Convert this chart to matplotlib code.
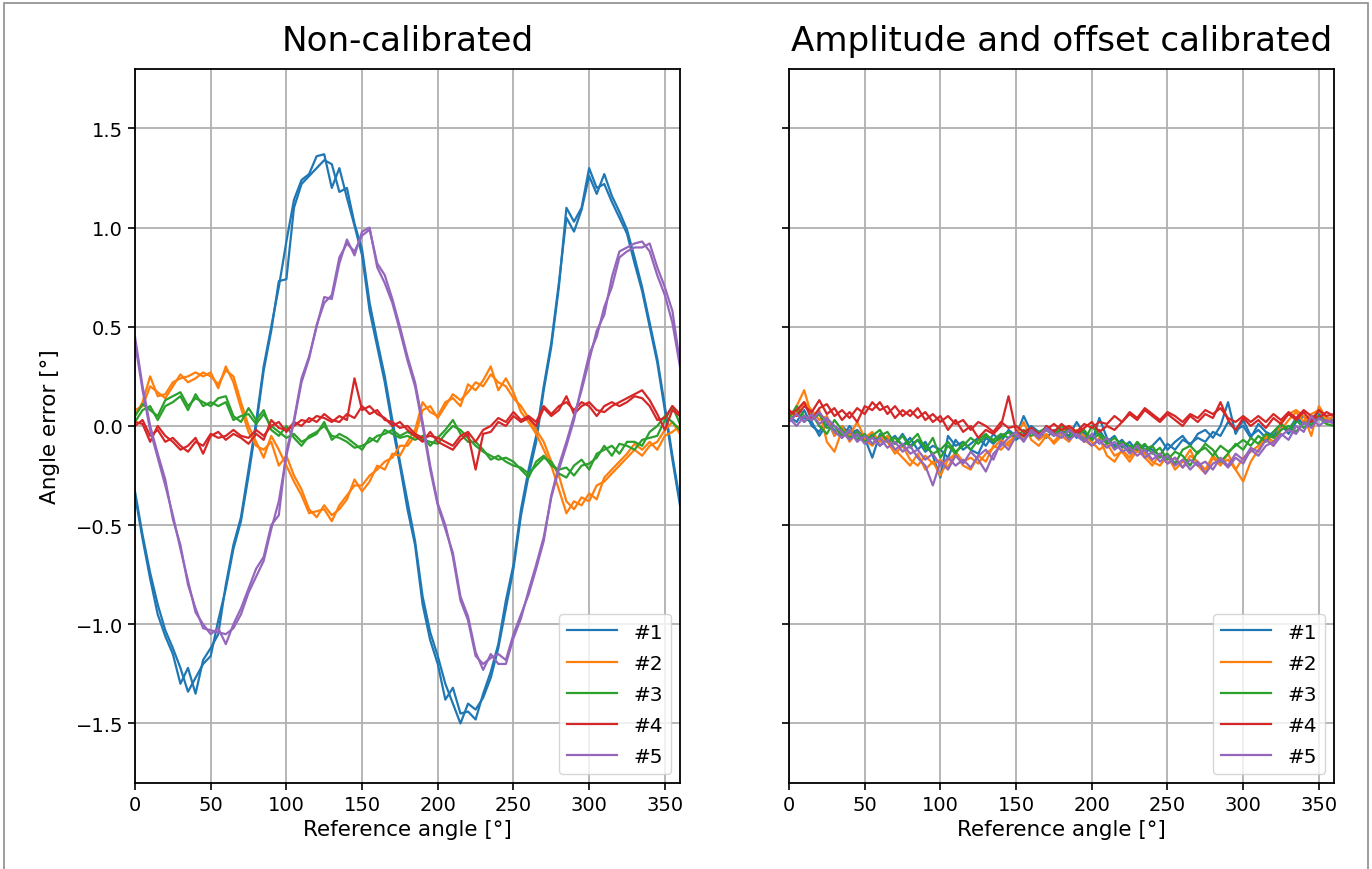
import numpy as np
import matplotlib.pyplot as plt
from matplotlib.patches import Rectangle

# reference angle, 5 deg steps
angle = np.arange(0, 361, 5)

# non-calibrated, two sweeps per sensor
raw1_a = [-0.35, -0.57, -0.77, -0.95, -1.06, -1.15, -1.30, -1.22, -1.35, -1.18, -1.12, -1.05,
          -0.80, -0.60, -0.46, -0.22, 0.02, 0.30, 0.50, 0.70, 0.93, 1.14, 1.24, 1.27,
          1.36, 1.37, 1.20, 1.30, 1.15, 1.01, 0.86, 0.58, 0.40, 0.22, 0.00, -0.20,
          -0.42, -0.60, -0.90, -1.08, -1.20, -1.38, -1.32, -1.45, -1.44, -1.48, -1.35, -1.24,
          -1.10, -0.88, -0.70, -0.42, -0.22, -0.05, 0.20, 0.42, 0.72, 1.05, 0.98, 1.09,
          1.26, 1.17, 1.27, 1.16, 1.08, 0.99, 0.85, 0.70, 0.52, 0.34, 0.10, -0.15,
          -0.38]
raw1_b = [-0.33, -0.55, -0.74, -0.90, -1.03, -1.12, -1.22, -1.34, -1.27, -1.20, -1.16, -0.98,
          -0.82, -0.62, -0.48, -0.25, 0.00, 0.28, 0.48, 0.73, 0.74, 1.10, 1.22, 1.26,
          1.30, 1.34, 1.32, 1.18, 1.20, 1.02, 0.89, 0.62, 0.43, 0.25, 0.03, -0.18,
          -0.38, -0.58, -0.86, -1.04, -1.16, -1.30, -1.40, -1.50, -1.40, -1.43, -1.37, -1.27,
          -1.12, -0.92, -0.72, -0.45, -0.25, -0.08, 0.18, 0.40, 0.70, 1.10, 1.03, 1.10,
          1.30, 1.20, 1.22, 1.13, 1.05, 0.97, 0.82, 0.68, 0.50, 0.32, 0.08, -0.17,
          -0.40]
raw2_a = [0.05, 0.12, 0.25, 0.15, 0.16, 0.22, 0.24, 0.25, 0.27, 0.25, 0.27, 0.19,
          0.30, 0.22, 0.09, -0.03, -0.10, -0.12, -0.08, -0.20, -0.15, -0.25, -0.32, -0.42,
          -0.46, -0.40, -0.45, -0.42, -0.37, -0.27, -0.33, -0.28, -0.20, -0.22, -0.14, -0.15,
          -0.08, -0.02, 0.12, 0.07, 0.05, 0.12, 0.14, 0.10, 0.21, 0.18, 0.23, 0.30,
          0.18, 0.24, 0.17, 0.07, 0.02, -0.04, -0.12, -0.20, -0.32, -0.44, -0.38, -0.40,
          -0.34, -0.37, -0.26, -0.22, -0.18, -0.14, -0.09, -0.12, -0.08, -0.12, -0.05, -0.03,
          0.00]
raw2_b = [0.08, 0.10, 0.20, 0.17, 0.14, 0.20, 0.26, 0.22, 0.24, 0.27, 0.25, 0.21,
          0.28, 0.25, 0.12, 0.00, -0.08, -0.16, -0.05, -0.12, -0.20, -0.28, -0.35, -0.44,
          -0.43, -0.42, -0.48, -0.40, -0.35, -0.30, -0.30, -0.25, -0.22, -0.18, -0.16, -0.10,
          -0.10, -0.05, 0.08, 0.10, 0.04, 0.10, 0.16, 0.13, 0.17, 0.22, 0.20, 0.26,
          0.22, 0.20, 0.14, 0.10, 0.04, -0.02, -0.08, -0.18, -0.25, -0.38, -0.42, -0.36,
          -0.38, -0.30, -0.28, -0.24, -0.20, -0.16, -0.12, -0.15, -0.10, -0.08, -0.02, 0.02,
          -0.04]
raw3_a = [0.05, 0.11, 0.08, 0.05, 0.13, 0.15, 0.17, 0.10, 0.14, 0.12, 0.10, 0.14,
          0.15, 0.05, 0.02, 0.09, 0.03, 0.08, -0.02, -0.05, 0.00, -0.06, -0.10, -0.05,
          -0.03, 0.00, -0.05, -0.06, -0.08, -0.11, -0.10, -0.08, -0.05, -0.04, -0.02, -0.05,
          -0.03, -0.05, -0.07, -0.08, -0.09, -0.04, 0.00, -0.02, -0.06, -0.10, -0.13, -0.15,
          -0.17, -0.16, -0.18, -0.22, -0.26, -0.18, -0.15, -0.20, -0.22, -0.21, -0.25, -0.20,
          -0.19, -0.16, -0.10, -0.15, -0.09, -0.10, -0.12, -0.07, -0.06, -0.05, 0.03, 0.10,
          0.01]
raw3_b = [0.02, 0.08, 0.10, 0.03, 0.10, 0.12, 0.15, 0.08, 0.16, 0.10, 0.12, 0.10,
          0.12, 0.03, 0.05, 0.06, 0.01, 0.06, 0.00, -0.03, -0.06, -0.04, -0.08, -0.06,
          -0.04, 0.02, -0.07, -0.04, -0.06, -0.09, -0.12, -0.06, -0.08, -0.02, -0.04, -0.06,
          -0.05, -0.07, -0.05, -0.10, -0.06, -0.02, 0.03, -0.04, -0.08, -0.08, -0.12, -0.17,
          -0.15, -0.18, -0.20, -0.21, -0.24, -0.20, -0.16, -0.18, -0.24, -0.26, -0.20, -0.17,
          -0.22, -0.14, -0.12, -0.10, -0.14, -0.08, -0.08, -0.10, -0.03, 0.00, 0.05, 0.02,
          -0.02]
raw4_a = [0.02, 0.01, -0.08, 0.00, -0.05, -0.08, -0.12, -0.10, -0.06, -0.14, -0.05, -0.03,
          -0.07, -0.04, -0.06, -0.09, -0.04, -0.07, 0.03, -0.01, -0.02, 0.00, 0.03, 0.02,
          0.05, 0.04, 0.02, 0.05, 0.03, 0.24, 0.08, 0.10, 0.06, 0.04, 0.00, 0.02,
          -0.02, -0.05, -0.08, -0.03, -0.08, -0.10, -0.12, -0.07, -0.04, -0.22, -0.04, -0.03,
          0.02, 0.00, 0.05, 0.02, 0.04, 0.00, 0.09, 0.05, 0.08, 0.15, 0.06, 0.10,
          0.12, 0.08, 0.07, 0.10, 0.12, 0.14, 0.16, 0.18, 0.13, 0.06, -0.02, 0.08,
          0.05]
raw4_b = [0.00, 0.03, -0.05, -0.02, -0.08, -0.06, -0.10, -0.13, -0.08, -0.10, -0.04, -0.06,
          -0.05, -0.02, -0.05, -0.06, -0.02, -0.05, 0.00, 0.02, -0.03, 0.02, 0.00, 0.04,
          0.02, 0.06, 0.03, 0.02, 0.06, 0.04, 0.10, 0.06, 0.08, 0.03, 0.02, -0.01,
          0.00, -0.04, -0.06, -0.05, -0.06, -0.08, -0.10, -0.05, -0.03, -0.08, -0.02, 0.00,
          0.04, 0.02, 0.07, 0.03, 0.05, 0.02, 0.10, 0.06, 0.10, 0.12, 0.08, 0.12,
          0.10, 0.05, 0.10, 0.12, 0.10, 0.12, 0.15, 0.14, 0.10, 0.03, 0.04, 0.10,
          0.06]
raw5_a = [0.45, 0.20, 0.00, -0.14, -0.27, -0.47, -0.60, -0.80, -0.92, -1.02, -1.03, -1.04,
          -1.05, -1.02, -0.95, -0.84, -0.76, -0.68, -0.52, -0.38, -0.15, 0.02, 0.22, 0.34,
          0.51, 0.62, 0.66, 0.85, 0.92, 0.88, 0.96, 0.99, 0.82, 0.76, 0.64, 0.50,
          0.35, 0.22, 0.02, -0.20, -0.39, -0.50, -0.66, -0.88, -0.98, -1.16, -1.20, -1.17,
          -1.15, -1.18, -1.05, -0.95, -0.85, -0.72, -0.58, -0.35, -0.20, -0.08, 0.05, 0.18,
          0.33, 0.48, 0.56, 0.75, 0.88, 0.90, 0.92, 0.93, 0.88, 0.76, 0.66, 0.52,
          0.30]
raw5_b = [0.42, 0.18, -0.02, -0.16, -0.30, -0.45, -0.62, -0.78, -0.94, -1.00, -1.05, -1.02,
          -1.10, -1.00, -0.92, -0.82, -0.72, -0.66, -0.50, -0.45, -0.13, 0.03, 0.24, 0.35,
          0.50, 0.65, 0.64, 0.82, 0.94, 0.86, 0.98, 1.00, 0.80, 0.72, 0.62, 0.48,
          0.33, 0.20, 0.00, -0.22, -0.40, -0.52, -0.64, -0.86, -0.96, -1.14, -1.23, -1.15,
          -1.20, -1.20, -1.07, -0.97, -0.83, -0.70, -0.56, -0.36, -0.22, -0.10, 0.03, 0.20,
          0.36, 0.45, 0.60, 0.70, 0.85, 0.88, 0.90, 0.90, 0.92, 0.80, 0.70, 0.58,
          0.32]

# amplitude and offset calibrated
cal1_a = [0.05, 0.02, 0.08, 0.00, -0.03, 0.04, -0.05, 0.00, -0.04, -0.02, -0.06, -0.16,
          -0.04, -0.08, -0.05, -0.10, -0.06, -0.12, -0.08, -0.15, -0.26, -0.05, -0.10, -0.08,
          -0.12, -0.14, -0.06, -0.09, -0.05, -0.03, -0.07, -0.04, 0.00, -0.03, -0.06, -0.02,
          -0.04, -0.01, -0.06, -0.03, -0.08, 0.04, -0.06, -0.10, -0.07, -0.12, -0.09, -0.14,
          -0.10, -0.06, -0.12, -0.08, -0.05, -0.10, -0.04, -0.02, -0.06, 0.00, 0.12, -0.04,
          0.03, -0.05, -0.02, -0.06, -0.03, 0.01, -0.04, 0.02, 0.05, 0.00, 0.06, 0.03,
          0.02]
cal1_b = [0.03, 0.06, 0.04, 0.02, -0.05, 0.01, -0.02, -0.06, 0.00, -0.05, -0.08, -0.04,
          -0.10, -0.06, -0.09, -0.04, -0.10, -0.07, -0.13, -0.10, -0.12, -0.16, -0.07, -0.12,
          -0.09, -0.06, -0.10, -0.04, -0.08, -0.02, -0.05, 0.05, -0.03, -0.05, 0.00, -0.04,
          -0.02, -0.05, 0.02, -0.04, -0.06, -0.02, -0.08, -0.05, -0.11, -0.08, -0.13, -0.10,
          -0.12, -0.15, -0.09, -0.12, -0.07, -0.09, -0.06, -0.08, -0.03, -0.05, 0.02, -0.02,
          0.00, -0.06, 0.01, -0.03, -0.05, 0.00, -0.02, 0.04, 0.01, 0.03, 0.08, 0.04,
          0.03]
cal2_a = [0.03, 0.10, 0.18, 0.05, 0.08, -0.08, -0.13, -0.02, -0.05, 0.02, -0.06, -0.03,
          -0.08, -0.05, -0.12, -0.16, -0.20, -0.14, -0.22, -0.18, -0.25, -0.17, -0.14, -0.20,
          -0.22, -0.15, -0.18, -0.10, -0.12, -0.08, -0.05, 0.02, -0.07, -0.10, -0.05, -0.08,
          -0.03, 0.00, -0.04, -0.07, -0.10, -0.06, -0.15, -0.18, -0.12, -0.16, -0.10, -0.14,
          -0.18, -0.20, -0.15, -0.22, -0.18, -0.12, -0.20, -0.24, -0.16, -0.20, -0.14, -0.22,
          -0.28, -0.18, -0.12, -0.06, -0.10, 0.02, 0.06, 0.08, 0.05, -0.05, 0.10, 0.04,
          0.02]
cal2_b = [0.05, 0.07, 0.12, 0.08, 0.03, 0.05, -0.05, 0.00, -0.08, -0.03, -0.07, -0.10,
          -0.05, -0.08, -0.14, -0.10, -0.17, -0.20, -0.15, -0.19, -0.17, -0.21, -0.13, -0.18,
          -0.16, -0.19, -0.14, -0.11, -0.07, -0.10, -0.03, -0.06, -0.03, -0.07, -0.04, -0.09,
          -0.05, -0.08, -0.02, -0.05, -0.08, -0.12, -0.09, -0.15, -0.13, -0.18, -0.12, -0.16,
          -0.20, -0.14, -0.19, -0.16, -0.21, -0.15, -0.18, -0.22, -0.15, -0.19, -0.17, -0.22,
          -0.16, -0.13, -0.10, -0.05, -0.08, -0.02, 0.03, 0.07, 0.02, 0.06, 0.08, 0.03,
          0.05]
cal3_a = [0.06, 0.08, 0.02, 0.06, 0.00, -0.04, 0.03, -0.02, -0.06, -0.03, -0.08, -0.05,
          -0.02, -0.08, -0.06, -0.10, -0.08, -0.04, -0.12, -0.06, -0.16, -0.10, -0.14, -0.08,
          -0.12, -0.07, -0.04, -0.08, -0.06, -0.03, -0.06, -0.02, -0.05, -0.03, -0.01, -0.04,
          -0.02, -0.06, -0.03, -0.08, 0.00, -0.05, -0.09, -0.06, -0.10, -0.13, -0.08, -0.12,
          -0.10, -0.16, -0.14, -0.19, -0.12, -0.10, -0.14, -0.09, -0.12, -0.18, -0.14, -0.09,
          -0.12, -0.06, -0.09, -0.04, -0.06, -0.02, 0.00, -0.03, 0.02, 0.00, 0.04, 0.01,
          0.00]
cal3_b = [0.04, 0.10, 0.05, 0.03, 0.06, -0.01, 0.00, -0.05, -0.02, -0.07, -0.04, -0.09,
          -0.05, -0.03, -0.09, -0.05, -0.11, -0.07, -0.10, -0.14, -0.12, -0.08, -0.13, -0.10,
          -0.06, -0.09, -0.05, -0.07, -0.04, -0.06, -0.03, -0.05, -0.01, -0.04, -0.02, -0.05,
          0.00, -0.03, -0.05, -0.02, -0.07, -0.04, -0.07, -0.11, -0.08, -0.10, -0.12, -0.09,
          -0.14, -0.11, -0.17, -0.13, -0.15, -0.20, -0.13, -0.11, -0.15, -0.10, -0.13, -0.10,
          -0.07, -0.10, -0.05, -0.08, -0.03, 0.01, -0.02, 0.03, -0.01, 0.02, 0.05, 0.02,
          0.03]
cal4_a = [0.08, 0.05, 0.10, 0.07, 0.13, 0.06, 0.09, 0.03, 0.07, 0.02, 0.10, 0.08,
          0.12, 0.06, 0.10, 0.05, 0.08, 0.04, 0.07, 0.02, 0.05, -0.02, 0.03, -0.03,
          0.00, -0.06, -0.02, -0.04, 0.00, 0.15, -0.03, -0.05, -0.02, -0.06, 0.00, -0.03,
          0.01, -0.02, -0.04, -0.01, 0.02, -0.03, 0.00, -0.02, 0.02, 0.06, 0.03, 0.08,
          0.05, 0.02, 0.06, 0.03, 0.00, 0.05, 0.02, 0.06, 0.04, 0.12, 0.03, -0.02,
          0.04, 0.00, 0.03, -0.01, 0.04, 0.01, 0.06, 0.03, 0.07, 0.02, 0.08, 0.05,
          0.06]
cal4_b = [0.06, 0.08, 0.12, 0.03, 0.09, 0.11, 0.05, 0.08, 0.04, 0.09, 0.06, 0.12,
          0.08, 0.10, 0.04, 0.08, 0.05, 0.09, 0.03, 0.06, 0.02, 0.05, 0.01, 0.03,
          -0.02, 0.02, 0.00, -0.03, 0.02, -0.01, 0.00, -0.03, -0.01, -0.04, -0.02, 0.01,
          -0.02, 0.00, -0.03, 0.01, -0.01, 0.02, 0.01, 0.05, 0.02, 0.07, 0.04, 0.09,
          0.06, 0.03, 0.07, 0.05, 0.02, 0.06, 0.04, 0.08, 0.06, 0.09, 0.04, 0.02,
          0.05, 0.02, 0.05, 0.02, 0.06, 0.03, 0.07, 0.04, 0.08, 0.05, 0.04, 0.07,
          0.05]
cal5_a = [0.04, 0.00, 0.05, 0.03, 0.07, 0.02, -0.03, -0.06, -0.02, -0.08, -0.05, -0.09,
          -0.06, -0.11, -0.08, -0.13, -0.10, -0.16, -0.20, -0.30, -0.18, -0.22, -0.15, -0.19,
          -0.13, -0.17, -0.23, -0.14, -0.10, -0.06, -0.03, -0.08, -0.02, -0.05, -0.01, -0.04,
          -0.06, -0.02, -0.05, -0.08, -0.04, -0.09, -0.06, -0.12, -0.09, -0.14, -0.10, -0.16,
          -0.13, -0.18, -0.15, -0.20, -0.17, -0.22, -0.18, -0.24, -0.19, -0.17, -0.21, -0.16,
          -0.19, -0.12, -0.15, -0.10, -0.08, -0.04, -0.07, 0.00, -0.03, 0.05, 0.00, 0.03,
          0.01]
cal5_b = [0.02, 0.06, 0.02, 0.06, 0.01, 0.04, 0.00, -0.03, -0.07, -0.04, -0.09, -0.06,
          -0.10, -0.07, -0.12, -0.09, -0.14, -0.12, -0.17, -0.14, -0.20, -0.16, -0.20, -0.17,
          -0.21, -0.15, -0.12, -0.17, -0.08, -0.12, -0.05, -0.07, -0.03, -0.06, -0.02, -0.05,
          -0.03, -0.07, -0.04, -0.06, -0.10, -0.07, -0.11, -0.08, -0.13, -0.11, -0.15, -0.12,
          -0.17, -0.14, -0.19, -0.16, -0.21, -0.17, -0.20, -0.18, -0.22, -0.16, -0.20, -0.14,
          -0.17, -0.11, -0.13, -0.07, -0.10, -0.05, -0.02, -0.04, 0.02, -0.01, 0.04, 0.02,
          0.03]

labels = ['#1', '#2', '#3', '#4', '#5']
colors = ['C0', 'C1', 'C2', 'C3', 'C4']
raw = [(raw1_a, raw1_b), (raw2_a, raw2_b), (raw3_a, raw3_b), (raw4_a, raw4_b), (raw5_a, raw5_b)]
cal = [(cal1_a, cal1_b), (cal2_a, cal2_b), (cal3_a, cal3_b), (cal4_a, cal4_b), (cal5_a, cal5_b)]
titles = ['Non-calibrated', 'Amplitude and offset calibrated']

fig = plt.figure(figsize=(13.72, 8.7), dpi=100)
ax1 = fig.add_axes([0.0984, 0.0989, 0.3972, 0.8207])
ax2 = fig.add_axes([0.5751, 0.0989, 0.3972, 0.8207], sharey=ax1)

for ax, data, title in zip([ax1, ax2], [raw, cal], titles):
    for (a, b), lab, col in zip(data, labels, colors):
        ax.plot(angle, a, color=col, lw=1.6, label=lab)
        ax.plot(angle, b, color=col, lw=1.6)
    ax.set_xlim(0, 360)
    ax.set_ylim(-1.8, 1.8)
    ax.set_xticks(np.arange(0, 351, 50))
    ax.set_yticks([-1.5, -1.0, -0.5, 0.0, 0.5, 1.0, 1.5])
    ax.grid(True, color='#b0b0b0', lw=1.3)
    ax.set_axisbelow(True)
    ax.tick_params(labelsize=14, width=1.2, length=5)
    for sp in ax.spines.values():
        sp.set_linewidth(1.3)
    ax.set_xlabel('Reference angle [°]', fontsize=15.5)
    ax.set_title(title, fontsize=24.6, pad=14)
    ax.legend(loc='lower right', fontsize=14.5, handlelength=2.5, labelspacing=0.6,
              borderaxespad=0.45)

ax1.set_ylabel('Angle error [°]', fontsize=15.5, labelpad=11)
plt.setp(ax2.get_yticklabels(), visible=False)

# outer frame of the original screenshot
fig.patches.append(Rectangle((4 / 1372, -0.05), 1 - 8 / 1372, 1.05 - 4 / 870,
                             transform=fig.transFigure, fill=False,
                             edgecolor='#8c8c8c', lw=1.2))

fig.savefig('out.png', dpi=100)
